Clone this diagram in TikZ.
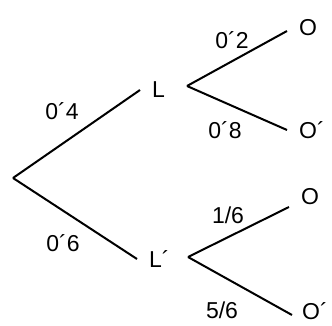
\documentclass[tikz,border=0pt]{standalone}
\usepackage{fontspec}
\setmainfont{Liberation Sans}
\usetikzlibrary{positioning,calc}

\begin{document}
\begin{tikzpicture}[x=1pt,y=1pt, font=\fontsize{23}{26}\selectfont,
  br/.style={line width=2pt}, leaf/.style={inner xsep=12pt,inner ysep=0pt,anchor=west},
  prob/.style={inner sep=0pt}]
  \useasboundingbox (0,0) rectangle (332,325);
  \coordinate (r) at (13,147);
  \node[leaf](L) at (140,235){L};
  \node[leaf](Lc) at (137,66){L´};
  \coordinate (bL) at (187,239);
  \coordinate (bLc) at (188,68);
  \node[leaf](o1) at (287,297){O};
  \node[leaf](o1c) at (287,195){O´};
  \node[leaf](o2) at (289,128){O};
  \node[leaf](o2c) at (290,14){O´};
  \draw[br](r)--(L.west);\draw[br](r)--(Lc.west);
  \draw[br](bL)--($(o1.west)+(0,-3)$);\draw[br](bL)--(o1c.west);
  \draw[br](bLc)--($(o2.west)+(0,-10)$);\draw[br](bLc)--($(o2c.west)+(2,-4)$);
  % probabilities
  \node[prob](p4) at (62,214){0´4};
  \node[prob](p6) at (63,82){0´6};
  \node[prob](p2) at (232,285){0´2};
  \node[prob](p8) at (225,195){0´8};
  \node[prob](q1) at (228,110){1/6};
  \node[prob](q5) at (222,15){5/6};
\end{tikzpicture}
\end{document}
